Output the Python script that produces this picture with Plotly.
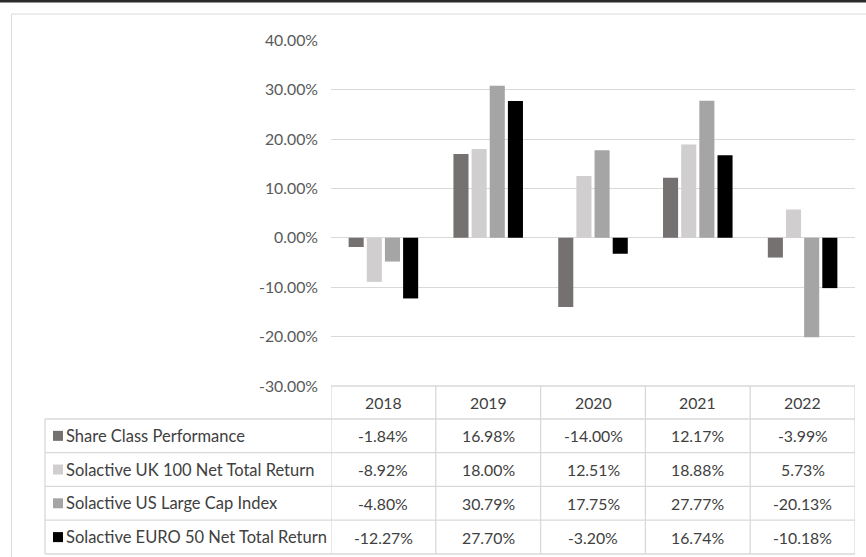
import plotly.graph_objects as go

W, H = 866, 557

years = ["2018", "2019", "2020", "2021", "2022"]
series_names = [
    "Share Class Performance",
    "Solactive UK 100 Net Total Return",
    "Solactive US Large Cap Index",
    "Solactive EURO 50 Net Total Return",
]
share_class = [-1.84, 16.98, -14.00, 12.17, -3.99]
uk100 = [-8.92, 18.00, 12.51, 18.88, 5.73]
us_large = [-4.80, 30.79, 17.75, 27.77, -20.13]
euro50 = [-12.27, 27.70, -3.20, 16.74, -10.18]
colors = ["#767171", "#d0cece", "#a5a5a5", "#000000"]
tick_values = [40, 30, 20, 10, 0, -10, -20, -30]
tick_labels = ["40.00%", "30.00%", "20.00%", "10.00%", "0.00%", "-10.00%", "-20.00%", "-30.00%"]

all_series = [share_class, uk100, us_large, euro50]

FONT = "Lato, sans-serif"


def px(x):
    return x / W


def py(y):
    return 1 - y / H


fig = go.Figure()
for name, vals, c in zip(series_names, all_series, colors):
    fig.add_trace(go.Bar(
        x=years, y=vals, name=name, marker_color=c,
        marker_line_width=0, showlegend=False,
    ))

plot_l, plot_r = 331, 855
y_top, y_bot = 40.3, 386.0
table_top = 386.0
row_lines = [419.0, 452.7, 486.4, 520.2, 554.0]

shapes = []
annotations = []
grid = "#d9d9d9"
# top dark band
shapes.append(dict(type="rect", xref="paper", yref="paper", x0=0, x1=1,
                   y0=py(2.5), y1=1, fillcolor="#2b2b2b", line_width=0, layer="above"))
# outer frame
shapes.append(dict(type="rect", xref="paper", yref="paper", x0=px(11.5), x1=px(880),
                   y0=py(600), y1=py(14), line=dict(color=grid, width=1), fillcolor="rgba(0,0,0,0)"))
# table horizontal lines
shapes.append(dict(type="line", xref="paper", yref="paper", x0=px(plot_l), x1=px(plot_r),
                   y0=py(table_top), y1=py(table_top), line=dict(color=grid, width=1.3)))
for yl in row_lines:
    shapes.append(dict(type="line", xref="paper", yref="paper", x0=px(45), x1=px(plot_r),
                       y0=py(yl), y1=py(yl), line=dict(color=grid, width=1.3)))
# vertical lines
shapes.append(dict(type="line", xref="paper", yref="paper", x0=px(45), x1=px(45),
                   y0=py(row_lines[0]), y1=py(row_lines[-1]), line=dict(color=grid, width=1.3)))
for i in range(len(years) + 1):
    shapes.append(dict(type="line", xref="x", yref="paper", x0=i - 0.5, x1=i - 0.5,
                       y0=py(table_top), y1=py(row_lines[-1]), line=dict(color=grid, width=1.3)))

txt_color = "#404040"
NUM_SIZE = 15.8
LBL_SIZE = 16.5
# header
for i, yr in enumerate(years):
    annotations.append(dict(x=i, xref="x", y=py((table_top + row_lines[0]) / 2), yref="paper",
                            text=yr, showarrow=False, xanchor="center", yanchor="middle",
                            font=dict(family=FONT, size=NUM_SIZE, color=txt_color)))
# rows
for r, (name, vals, c) in enumerate(zip(series_names, all_series, colors)):
    yc = (row_lines[r] + row_lines[r + 1]) / 2
    shapes.append(dict(type="rect", xref="paper", yref="paper", x0=px(53), x1=px(63),
                       y0=py(yc + 5), y1=py(yc - 5), fillcolor=c, line_width=0))
    annotations.append(dict(x=px(64), xref="paper", y=py(yc), yref="paper", text=name,
                            showarrow=False, xanchor="left", yanchor="middle",
                            font=dict(family=FONT, size=LBL_SIZE, color=txt_color)))
    for i, v in enumerate(vals):
        annotations.append(dict(x=i, xref="x", y=py(yc), yref="paper", text=f"{v:.2f}%",
                                showarrow=False, xanchor="center", yanchor="middle",
                                font=dict(family=FONT, size=NUM_SIZE, color=txt_color)))

fig.update_layout(
    width=W, height=H,
    margin=dict(l=0, r=0, t=0, b=0, pad=0, autoexpand=False),
    paper_bgcolor="white", plot_bgcolor="white",
    barmode="group", bargap=0.307, bargroupgap=0.17,
    shapes=shapes, annotations=annotations,
    xaxis=dict(domain=[px(plot_l), px(plot_r)], showticklabels=False, showgrid=False,
               zeroline=False, showline=False, range=[-0.5, 4.5], automargin=False),
    yaxis=dict(domain=[py(y_bot), py(y_top)], range=[-30, 40], tickvals=tick_values,
               ticktext=tick_labels, showgrid=True, gridcolor=grid, gridwidth=1.3,
               zeroline=True, zerolinecolor=grid, zerolinewidth=1.3, showline=False,
               ticklabelstandoff=12, automargin=False,
               tickfont=dict(family=FONT, size=NUM_SIZE, color="#595959")),
    font=dict(family=FONT),
)

fig.write_html("out.html", config={"displayModeBar": False},
               post_script="document.body.style.margin='0px';document.body.style.padding='0px';")
